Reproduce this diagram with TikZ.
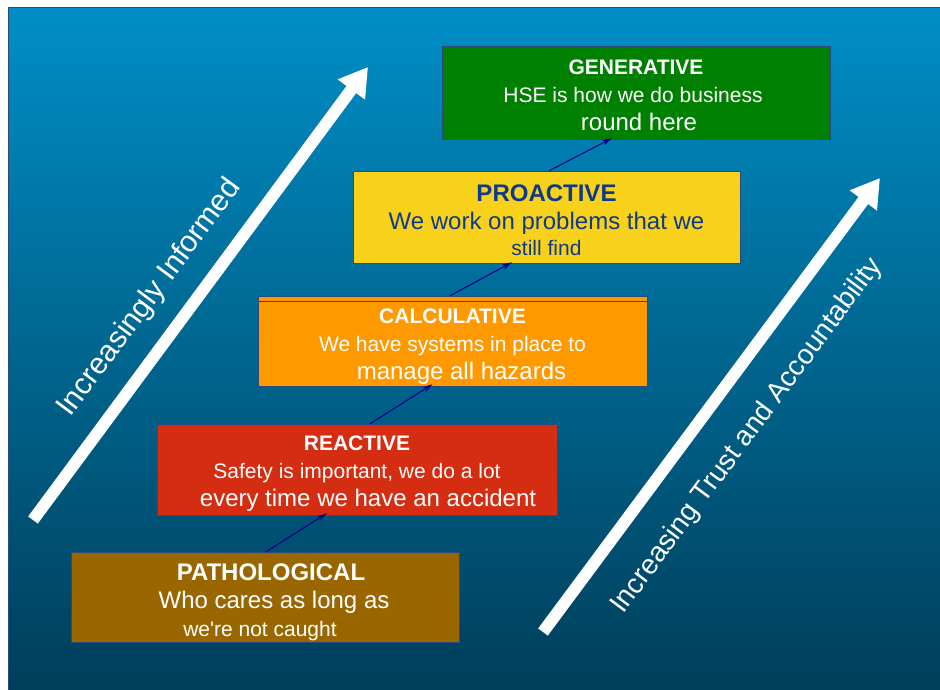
\documentclass[tikz,border=0pt]{standalone}
\usepackage{fontspec}
\setmainfont{Liberation Sans}
\usepackage{xcolor}
\usetikzlibrary{arrows.meta}
\definecolor{bgtop}{HTML}{008EC6}
\definecolor{bgbottom}{HTML}{003E5A}
\definecolor{boxedge}{HTML}{2A4A80}
\definecolor{linknavy}{HTML}{000090}
\definecolor{gengreen}{HTML}{008000}
\definecolor{proyellow}{HTML}{F8D11A}
\definecolor{protext}{HTML}{0F3A8A}
\definecolor{calcorange}{HTML}{FF9900}
\definecolor{reacred}{HTML}{D52D12}
\definecolor{pathbrown}{HTML}{996600}
\newcommand{\bigline}{\fontsize{24}{28}\selectfont}
\newcommand{\lift}[1]{\rule{0pt}{#1}}
\tikzset{
    level-box/.style = {draw=boxedge, thin, rectangle, align=center, inner sep=0pt, text=white, font=\fontsize{21}{28}\selectfont},
    big-arrow/.style = {draw=white, line width=12pt, -{Triangle[width=32pt,length=28pt]}},
    level-link/.style = {draw=linknavy, line width=1.1pt, -{Stealth[length=10pt,width=5.5pt]}},
    side-label/.style = {text=white, rotate=53.4},
}

\begin{document}
\begin{tikzpicture}[x=1pt, y=-1pt]
\useasboundingbox (0,0) rectangle (940,689);
% backdrop
\shade[top color=bgtop, bottom color=bgbottom] (8,7) rectangle (941,690);
\draw[boxedge, thick] (8,690) -- (8,7) -- (941,7);

% the five levels
\node[level-box, fill=gengreen, minimum width=388pt, minimum height=93pt] (gen) at (636,92.5)
    {\lift{21pt}\textbf{GENERATIVE}\\ \hspace*{-6pt}HSE is how we do business\\ {\bigline\hspace*{6pt}round here}};
\node[level-box, fill=proyellow, text=protext, minimum width=387pt, minimum height=92pt] (pro) at (546.5,217)
    {{\bigline\lift{23pt}\textbf{PROACTIVE}}\\ {\bigline We work on problems that we}\\[-2pt] still find};
\node[level-box, fill=calcorange, minimum width=389pt, minimum height=90pt] (calc) at (452.5,341)
    {\lift{26pt}\textbf{CALCULATIVE}\\ We have systems in place to\\ {\bigline\hspace*{18pt}manage all hazards}};
\draw[boxedge] ([yshift=-5pt]calc.north west) -- ([yshift=-5pt]calc.north east);
\node[level-box, fill=reacred, minimum width=400pt, minimum height=91pt] (reac) at (357,469.5)
    {\lift{22pt}\textbf{REACTIVE}\\ Safety is important, we do a lot\\ {\bigline\hspace*{22pt}every time we have an accident}};
\node[level-box, fill=pathbrown, minimum width=388pt, minimum height=90pt] (patho) at (265,597)
    {{\bigline\lift{27pt}\hspace*{12pt}\textbf{PATHOLOGICAL}}\\ {\bigline\hspace*{18pt}Who cares as long as}\\ \hspace*{-10pt}we\textquotesingle re not caught};

% links between levels
\draw[level-link] ([xshift=1pt]patho.north) -- ([xshift=-30pt, yshift=2pt]reac.south);
\draw[level-link] ([xshift=13pt]reac.north) -- ([xshift=-20pt, yshift=2pt]calc.south);
\draw[level-link] ([xshift=-2.5pt]calc.north) -- ([xshift=-34.5pt, yshift=1pt]pro.south);
\draw[level-link] ([xshift=2.5pt]pro.north) -- ([xshift=-24pt, yshift=1pt]gen.south);

% side arrows
\coordinate (info-tail) at (33,520);
\coordinate (info-tip) at (368,67);
\coordinate (trust-tail) at (543,632);
\coordinate (trust-tip) at (880,178);
\draw[big-arrow] (info-tail) -- (info-tip);
\draw[big-arrow] (trust-tail) -- (trust-tip);
\node[side-label, font=\fontsize{30}{34}\selectfont] (info-label) at (150,298) {Increasingly Informed};
\node[side-label, font=\fontsize{28}{32}\selectfont] (trust-label) at (747,436) {Increasing Trust and Accountability};
\end{tikzpicture}
\end{document}
